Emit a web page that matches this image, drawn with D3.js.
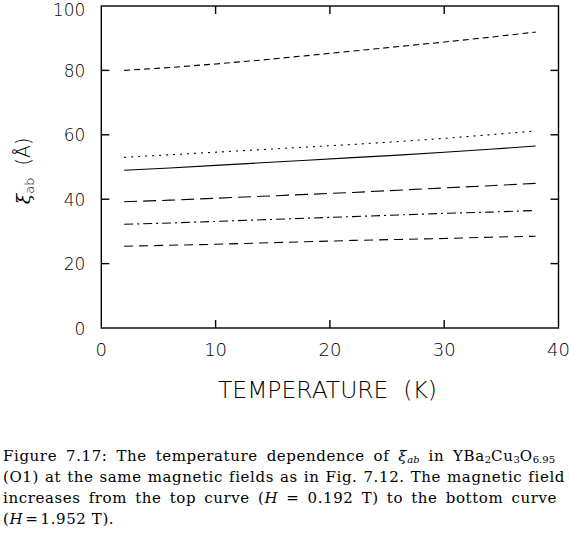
<!DOCTYPE html>
<html lang="en">
<head>
  <meta charset="UTF-8">
  <title>Figure 7.17</title>
  <script src="https://d3js.org/d3.v7.min.js"></script>
  <style>
    body { margin: 0; background: white; }
    #wrap { position: relative; width: 569px; height: 537px; }
    .axis-text {
      font-family: "DejaVu Sans ExtraLight", "DejaVu Sans", sans-serif;
      font-weight: 200;
      fill: black;
    }
    .frame { fill: none; stroke: black; stroke-width: 1.4px; }
    .tick { stroke: black; stroke-width: 1.4px; }
    .curve { fill: none; stroke: black; stroke-width: 1.1px; }
    .caption {
      position: absolute;
      left: 3px;
      font-family: "DejaVu Serif", serif;
      font-size: 15px;
      letter-spacing: 0.6px;
      line-height: 20px;
      white-space: nowrap;
      text-align: justify;
      text-align-last: justify;
    }
    .caption.last { text-align-last: left; }
    .caption sub { font-size: 10px; vertical-align: -2px; line-height: 0; letter-spacing: 0; }
  </style>
</head>
<body>
<div id="wrap">
  <svg id="chart" width="569" height="537"></svg>
  <div class="caption" style="top:446px; width:552px">Figure 7.17: The temperature dependence of <i>ξ<sub>ab</sub></i> in YBa<sub>2</sub>Cu<sub>3</sub>O<sub>6.95</sub></div>
  <div class="caption" style="top:467px; width:562px">(O1) at the same magnetic fields as in Fig. 7.12. The magnetic field</div>
  <div class="caption" style="top:488px; width:554px">increases from the top curve (<i>H</i> = 0.192 T) to the bottom curve</div>
  <div class="caption last" style="top:509px">(<i>H</i>&#8202;=&#8202;1.952 T).</div>
</div>
<script>
  // temperatures (K) where each curve was read
  const temps = [2, 6, 10, 14, 18, 22, 26, 30, 34, 38];

  // xi_ab (Angstrom), top curve (H = 0.192 T) down to bottom curve (H = 1.952 T)
  const xiShortDash = [80.0, 80.9, 82.0, 83.2, 84.6, 86.0, 87.4, 88.8, 90.3, 91.9];
  const xiDotted    = [53.0, 53.8, 54.6, 55.4, 56.2, 57.0, 57.9, 58.9, 60.0, 61.2];
  const xiSolid     = [49.0, 49.7, 50.5, 51.3, 52.1, 52.9, 53.7, 54.6, 55.5, 56.5];
  const xiLongDash  = [39.2, 39.7, 40.3, 40.9, 41.5, 42.1, 42.8, 43.5, 44.2, 44.9];
  const xiDashDot   = [32.2, 32.6, 33.1, 33.6, 34.1, 34.6, 35.1, 35.6, 36.0, 36.5];
  const xiDashed    = [25.4, 25.7, 26.0, 26.4, 26.8, 27.2, 27.5, 27.8, 28.2, 28.5];

  const xTicks = [0, 10, 20, 30, 40];
  const yTicks = [0, 20, 40, 60, 80, 100];

  const svg = d3.select("#chart");
  const margin = { top: 6, right: 10.5, bottom: 209, left: 101.3 };
  const plotWidth = 569 - margin.left - margin.right;
  const plotHeight = 537 - margin.top - margin.bottom;

  const x = d3.scaleLinear().domain([0, 40]).range([0, plotWidth]);
  const y = d3.scaleLinear().domain([0, 100]).range([plotHeight, 0]);

  const plot = svg.append("g")
    .attr("transform", "translate(" + margin.left + "," + margin.top + ")");

  //curves with their line styles
  const series = [
    { values: xiShortDash, dash: "6,4" },
    { values: xiDotted,    dash: "2,5" },
    { values: xiSolid,     dash: null },
    { values: xiLongDash,  dash: "13,6" },
    { values: xiDashDot,   dash: "9,4,2,4" },
    { values: xiDashed,    dash: "9,6" }
  ];

  const line = d3.line()
    .x((d, i) => x(temps[i]))
    .y(d => y(d));

  plot.selectAll("path.curve").data(series)
    .join("path")
    .attr("class", "curve")
    .attr("d", d => line(d.values))
    .attr("stroke-dasharray", d => d.dash);

  //frame and inward ticks on all four sides
  plot.append("rect").attr("class", "frame")
    .attr("width", plotWidth).attr("height", plotHeight);

  const tickLen = 8;
  xTicks.slice(1, -1).forEach(t => {
    plot.append("line").attr("class", "tick")
      .attr("x1", x(t)).attr("x2", x(t)).attr("y1", plotHeight).attr("y2", plotHeight - tickLen);
    plot.append("line").attr("class", "tick")
      .attr("x1", x(t)).attr("x2", x(t)).attr("y1", 0).attr("y2", tickLen);
  });
  yTicks.slice(1, -1).forEach(t => {
    plot.append("line").attr("class", "tick")
      .attr("x1", 0).attr("x2", tickLen).attr("y1", y(t)).attr("y2", y(t));
    plot.append("line").attr("class", "tick")
      .attr("x1", plotWidth).attr("x2", plotWidth - tickLen).attr("y1", y(t)).attr("y2", y(t));
  });

  //tick labels
  plot.selectAll("text.xlab").data(xTicks)
    .join("text")
    .attr("class", "axis-text xlab")
    .attr("x", d => x(d))
    .attr("y", plotHeight + 27.5)
    .attr("text-anchor", "middle")
    .attr("font-size", 18)
    .text(d => d);

  // top label sits against the page edge, keep it inside
  plot.selectAll("text.ylab").data(yTicks)
    .join("text")
    .attr("class", "axis-text ylab")
    .attr("x", -16)
    .attr("y", d => Math.max(y(d) + 6.6, 9.5))
    .attr("text-anchor", "end")
    .attr("font-size", 17)
    .text(d => d);

  //axis titles
  svg.append("text")
    .attr("class", "axis-text")
    .attr("x", 218)
    .attr("y", 397.5)
    .attr("font-size", 23)
    .attr("textLength", 219)
    .attr("lengthAdjust", "spacingAndGlyphs")
    .style("white-space", "pre")
    .text("TEMPERATURE  (K)");

  const ylab = svg.append("text")
    .attr("class", "axis-text")
    .attr("transform", "translate(30,171) rotate(-90)")
    .attr("text-anchor", "middle")
    .attr("font-size", 19);
  ylab.append("tspan").attr("font-family", "DejaVu Serif").attr("font-style", "italic").text("ξ");
  ylab.append("tspan").attr("font-size", 13).attr("dy", 4).text("ab");
  ylab.append("tspan").attr("dy", -4).style("white-space", "pre").text("  (Å)");
</script>
</body>
</html>
